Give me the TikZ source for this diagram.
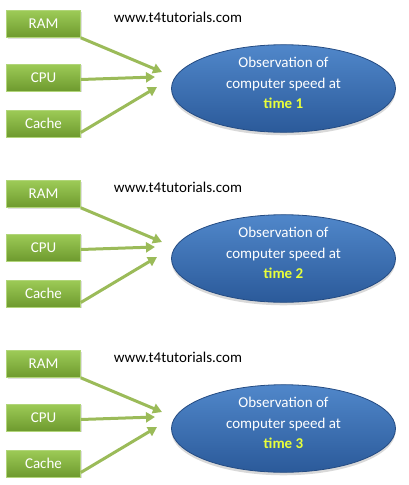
\documentclass[tikz,border=0pt]{standalone}
\usepackage{fontspec}
\setmainfont{Carlito}
\usepackage{tikz}
\usetikzlibrary{arrows.meta,shapes.geometric,shadows,positioning}

\definecolor{boxtop}{HTML}{9DCB57}
\definecolor{boxbot}{HTML}{6E9A2E}
\definecolor{arrowgreen}{HTML}{9BBB59}
\definecolor{balltop}{HTML}{5087CA}
\definecolor{ballbot}{HTML}{2B5A9A}
\definecolor{timeyellow}{HTML}{E8FF3A}

\begin{document}
\begin{tikzpicture}[x=1pt,y=-1pt,
hwbox/.style={rectangle,draw=boxtop!80!white,line width=0.6pt,top color=boxtop,bottom color=boxbot,
  minimum width=74pt,minimum height=27pt,text=white,font=\fontsize{15}{17}\selectfont,
  drop shadow={shadow xshift=1pt,shadow yshift=-1pt,opacity=0.25}},
obsball/.style={ellipse,draw=ballbot!85!black,line width=0.8pt,top color=balltop,bottom color=ballbot,
  minimum width=224pt,minimum height=77pt,inner sep=0pt,text=white,align=center,
  font=\fontsize{15}{20.5}\selectfont,
  drop shadow={shadow xshift=0pt,shadow yshift=-3pt,opacity=0.3}},
feed/.style={draw=arrowgreen,line width=3pt,-{Triangle[width=10pt,length=9pt]}},
site/.style={font=\fontsize{15}{17}\selectfont,text=black}]
\useasboundingbox (0,0) rectangle (408,485);

\foreach \i/\y in {1/0,2/170,3/340}{
  \node[hwbox]  (ram\i)   at (43.5,24+\y)  {RAM};
  \node[hwbox]  (cpu\i)   at (43.5,77.5+\y) {CPU};
  \node[hwbox]  (cache\i) at (43.5,123.5+\y) {Cache};
  \node[site]   (web\i)   at (178,17+\y) {www.t4tutorials.com};
  \node[obsball] (obs\i)  at (283.5,88.5+\y)
    {Observation of\\computer speed at\\\textbf{\color{timeyellow}time \i}\\[-10pt]};
  \coordinate (in\i a) at (162,72+\y);
  \coordinate (in\i b) at (155,77+\y);
  \coordinate (in\i c) at (157,87+\y);
  \draw[feed] (ram\i.south east)   -- (in\i a);
  \draw[feed] ([yshift=-2pt]cpu\i.east)  -- (in\i b);
  \draw[feed] ([yshift=-9pt]cache\i.east) -- (in\i c);
}
\end{tikzpicture}
\end{document}
